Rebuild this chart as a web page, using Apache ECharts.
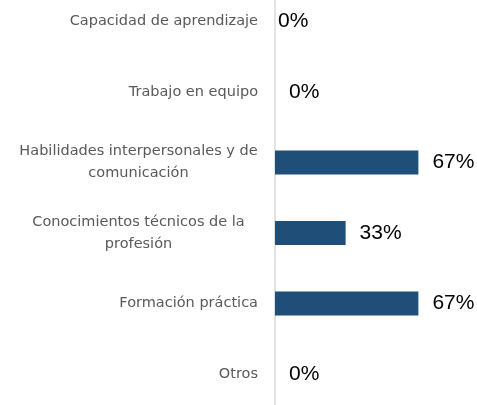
<!DOCTYPE html>
<html>
<head>
<meta charset="utf-8">
<script src="https://cdn.jsdelivr.net/npm/echarts@6/dist/echarts.min.js"></script>
<style>
  html, body { margin: 0; padding: 0; background: #fff; }
  #main { width: 477px; height: 405px; }
</style>
</head>
<body>
<div id="main"></div>
<script>
// categories, top to bottom
var categories = [
  'Capacidad de aprendizaje',
  'Trabajo en equipo',
  'Habilidades interpersonales y de\ncomunicación',
  'Conocimientos técnicos de la\nprofesión',
  'Formación práctica',
  'Otros'
];
// percent values
var values = [0, 0, 67, 33, 67, 0];

var labelFont = '14.5px "DejaVu Sans"';

// width of the widest line, so two-line labels can be centred inside their block
function lineWidth(txt) {
  var c = document.createElement('canvas').getContext('2d');
  c.font = labelFont;
  return Math.max.apply(null, txt.split('\n').map(function (l) { return c.measureText(l).width; }));
}

var chart = echarts.init(document.getElementById('main'));

var option = {
  animation: false,
  grid: { left: 275, top: -13.75, width: 214, height: 423, outerBoundsMode: 'none' },
  xAxis: {
    type: 'value',
    min: 0,
    max: 100,
    show: false
  },
  yAxis: {
    type: 'category',
    inverse: true,
    data: categories,
    axisTick: { show: false },
    axisLine: { lineStyle: { color: '#d9d9d9', width: 1.5 } },
    axisLabel: {
      margin: 17,
      color: '#595959',
      fontFamily: 'DejaVu Sans',
      fontSize: 14.5,
      lineHeight: 22,
      formatter: function (v) {
        if (v.indexOf('\n') < 0) return v;
        return v.split('\n').map(function (l) { return '{c|' + l + '}'; }).join('\n');
      },
      rich: {
        c: {
          width: 0,
          align: 'center',
          color: '#595959',
          fontFamily: 'DejaVu Sans',
          fontSize: 14.5,
          lineHeight: 22
        }
      }
    }
  },
  series: [{
    type: 'bar',
    barWidth: 24,
    itemStyle: { color: '#1f4e79' },
    label: {
      show: true,
      position: 'right',
      color: '#000',
      fontFamily: 'Liberation Sans',
      fontSize: 21,
      formatter: function (p) { return p.value + '%'; }
    },
    data: values.map(function (v, i) {
      return { value: v, label: { distance: i === 0 ? 3 : 14 } };
    })
  }]
};

// rich width = widest line among the two-line labels
var w = 0;
categories.forEach(function (c) { if (c.indexOf('\n') >= 0) w = Math.max(w, lineWidth(c)); });
option.yAxis.axisLabel.rich.c.width = Math.ceil(w);

chart.setOption(option);
</script>
</body>
</html>
